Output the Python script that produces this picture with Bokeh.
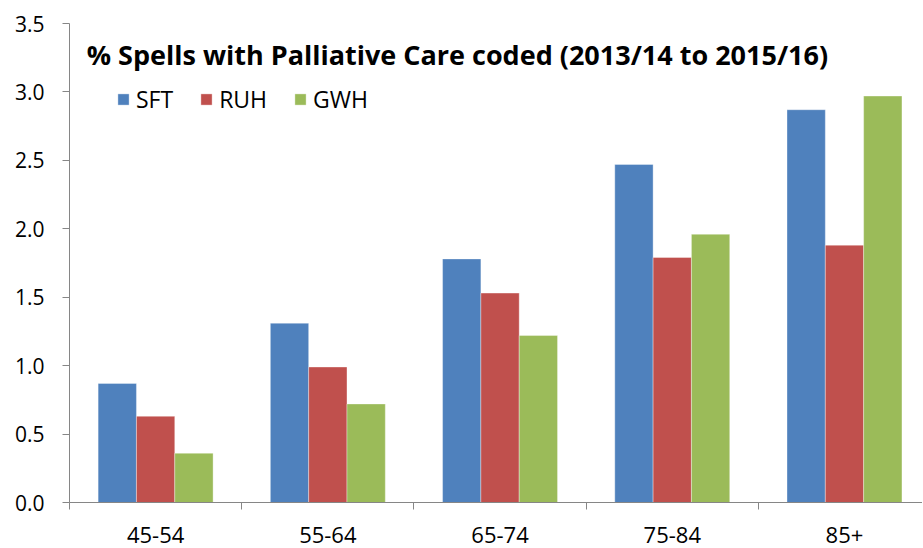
from bokeh.plotting import figure
from bokeh.models import (ColumnDataSource, FixedTicker, Legend, LegendItem, Label,
                          NumeralTickFormatter, Range1d)
from bokeh.transform import dodge
from bokeh.embed import file_html
from bokeh.resources import INLINE

# ---- data ----
categories = ["45-54", "55-64", "65-74", "75-84", "85+"]
sft = [0.87, 1.31, 1.78, 2.47, 2.87]
ruh = [0.63, 0.99, 1.53, 1.79, 1.88]
gwh = [0.36, 0.72, 1.22, 1.96, 2.97]
series = ["SFT", "RUH", "GWH"]
colors = ["#4F81BD", "#C0504D", "#9BBB59"]
y_ticks = [0.0, 0.5, 1.0, 1.5, 2.0, 2.5, 3.0, 3.5]
title_text = "% Spells with Palliative Care coded (2013/14 to 2015/16)"

FONT = "Open Sans"
AXIS_COL = "#868686"

centers = [i + 0.5 for i in range(len(categories))]
src = ColumnDataSource(dict(x=centers, SFT=sft, RUH=ruh, GWH=gwh))

p = figure(width=922, height=548,
           x_range=Range1d(0, 4.953), y_range=Range1d(0, 3.5),
           output_backend="svg", toolbar_location=None,
           min_border_left=69, min_border_top=23, min_border_right=0, min_border_bottom=46)
p.outline_line_color = None
p.xgrid.visible = False
p.ygrid.visible = False

bw = 0.2225
renderers = []
for k, (s, c) in enumerate(zip(series, colors)):
    r = p.vbar(x=dodge("x", (k - 1) * bw), top=s, width=bw, source=src,
               fill_color=c, line_color="white", line_alpha=0.35, line_width=1)
    renderers.append(r)

# x axis
xa = p.xaxis[0]
xa.ticker = FixedTicker(ticks=centers, minor_ticks=list(range(len(categories) + 1)))
xa.major_label_overrides = {c: lab for c, lab in zip(centers, categories)}
xa.major_tick_line_color = None
xa.minor_tick_line_color = AXIS_COL
xa.minor_tick_out = 7
xa.minor_tick_in = 0
xa.axis_line_color = AXIS_COL
xa.major_label_text_font = FONT
xa.major_label_text_font_size = "22px"
xa.major_label_text_color = "#000000"
xa.major_label_standoff = 17

# y axis
ya = p.yaxis[0]
ya.ticker = FixedTicker(ticks=y_ticks)
ya.formatter = NumeralTickFormatter(format="0.0")
ya.minor_tick_line_color = None
ya.major_tick_out = 7
ya.major_tick_in = 0
ya.major_tick_line_color = AXIS_COL
ya.axis_line_color = AXIS_COL
ya.major_label_text_font = FONT
ya.major_label_text_font_size = "21px"
ya.major_label_text_color = "#000000"
ya.major_label_standoff = 18

# legend
legend = Legend(items=[LegendItem(label=s, renderers=[r]) for s, r in zip(series, renderers)],
                orientation="horizontal", location=(47, 387),
                glyph_width=14, glyph_height=14, label_standoff=6, spacing=26,
                padding=0, margin=0, border_line_color=None, background_fill_alpha=0,
                label_text_font=FONT, label_text_font_size="23px", label_text_color="#000000")
p.add_layout(legend)

# title inside plot
p.add_layout(Label(x=0.1, y=3.273, text=title_text, text_font=FONT, text_font_size="27px",
                   text_font_style="bold", text_color="#000000", text_baseline="alphabetic"))

open("out.html", "w").write(file_html(p, INLINE))
